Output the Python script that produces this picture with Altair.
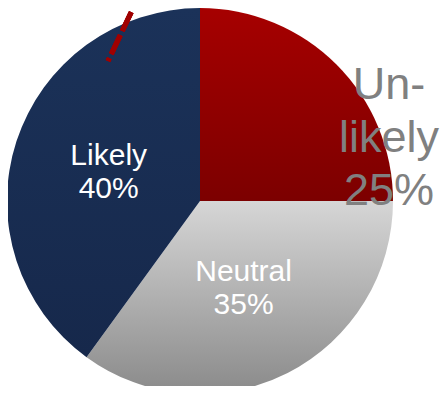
import math
import altair as alt
import pandas as pd

categories = ["Unlikely", "Neutral", "Likely"]
values = [25, 35, 40]
label_words = ["Un-\nlikely", "Neutral", "Likely"]

df = pd.DataFrame({"cat": categories, "value": values, "word": label_words})

grads = {
    "Unlikely": ["#a60000", "#7c0000"],
    "Neutral": ["#d6d6d6", "#8a8a8a"],
    "Likely": ["#1b3259", "#16284b"],
}

def grad(c0, c1):
    return alt.LinearGradient(
        gradient="linear", x1=0, y1=0, x2=0, y2=1,
        stops=[alt.GradientStop(offset=0, color=c0), alt.GradientStop(offset=1, color=c1)],
    )

theta_scale = alt.Scale(domain=[0, 100], range=[0, 2 * math.pi])
CX, CY, R = 192, 193, 193

base = (
    alt.Chart(df)
    .transform_window(end="sum(value)", frame=[None, 0])
    .transform_calculate(
        start="datum.end - datum.value",
        mid="datum.end - datum.value / 2",
        text="datum.word + '\\n' + datum.value + '%'",
    )
)

layers = []
for c in categories:
    layers.append(
        base.transform_filter(alt.datum.cat == c)
        .mark_arc(radius=R, fill=grad(*grads[c]))
        .encode(
            theta=alt.Theta("start:Q", scale=theta_scale),
            theta2="end:Q",
            x=alt.value(CX),
            y=alt.value(CY),
        )
    )

inner = (
    base.transform_filter(alt.datum.cat != "Unlikely")
    .mark_text(radius=96, dy=-15, fontSize=30, lineHeight=33, color="white",
               font="Liberation Sans", lineBreak="\n", align="center", baseline="middle")
    .encode(theta=alt.Theta("mid:Q", scale=theta_scale), text="text:N",
            x=alt.value(CX), y=alt.value(CY))
)

outer = (
    base.transform_filter(alt.datum.cat == "Unlikely")
    .mark_text(radius=150, dx=83, dy=-10, fontSize=45, lineHeight=53, color="#808080",
               font="Liberation Sans", lineBreak="\n", align="center", baseline="middle")
    .encode(theta=alt.Theta("mid:Q", scale=theta_scale), text="text:N",
            x=alt.value(CX), y=alt.value(CY))
)

dash = alt.Chart(df).mark_rule(
    color="#a00000", strokeWidth=5, strokeDash=[21, 4.5], strokeDashOffset=21, strokeCap="butt"
).encode(x=alt.value(125.2), y=alt.value(0), x2=alt.value(100), y2=alt.value(53))

chart = (
    alt.layer(*layers, inner, outer, dash)
    .properties(width=432, height=378, autosize=alt.AutoSizeParams(type="none"), padding=0)
    .configure_view(stroke=None)
)

chart.save("out.html", embed_options={"renderer": "svg", "actions": False})
